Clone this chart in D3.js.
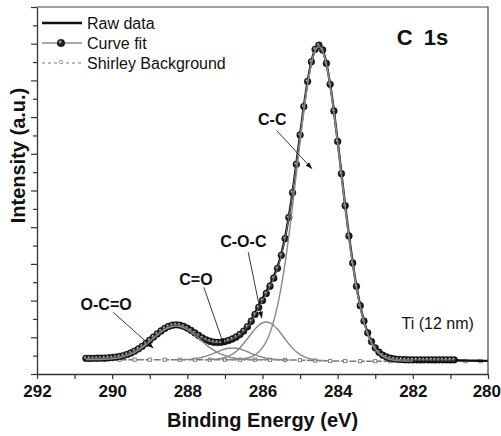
<!DOCTYPE html>
<html><head><meta charset="utf-8">
<script src="https://cdn.jsdelivr.net/npm/d3@7"></script>
<style>
body{margin:0;background:#fff}
svg{display:block}
text{font-family:Arial,"Liberation Sans",sans-serif;fill:#111}
</style>
</head><body>
<svg id="c" width="501" height="436"></svg>
<script>
// ---------- data (binding energy in eV, intensity in a.u.) ----------
const energy = [
290.7,290.6,290.5,290.4,290.3,290.2,290.1,290.0,
289.9,289.8,289.7,289.6,289.5,289.4,289.3,289.2,289.1,289.0,
288.9,288.8,288.7,288.6,288.5,288.4,288.3,288.2,288.1,288.0,
287.9,287.8,287.7,287.6,287.5,287.4,287.3,287.2,287.1,287.0,
286.9,286.8,286.7,286.6,286.5,286.4,286.3,286.2,286.1,286.0,
285.9,285.8,285.7,285.6,285.5,285.4,285.3,285.2,285.1,285.0,
284.9,284.8,284.7,284.6,284.5,284.4,284.3,284.2,284.1,284.0,
283.9,283.8,283.7,283.6,283.5,283.4,283.3,283.2,283.1,283.0,
282.9,282.8,282.7,282.6,282.5,282.4,282.3,282.2,282.1,282.0,
281.9,281.8,281.7,281.6,281.5,281.4,281.3,281.2,281.1,281.0,
280.9,280.8,280.7,280.6,280.5,280.4,280.3,280.2,280.1,280.0];

const rawData = [
4.22,4.24,4.25,4.28,4.31,4.36,4.42,4.50,
4.62,4.80,5.05,5.36,5.76,6.26,6.86,7.55,8.32,9.17,
10.05,10.93,11.74,12.44,12.97,13.30,13.40,13.30,12.98,12.50,
11.88,11.20,10.50,9.88,9.33,8.94,8.70,8.62,8.68,8.88,
9.18,9.60,10.14,10.85,11.75,12.95,14.70,16.65,18.65,20.55,
22.45,24.40,26.60,29.20,32.70,37.20,42.90,49.60,57.30,65.20,
72.90,79.70,85.00,88.40,89.50,88.20,84.60,78.90,71.70,63.40,
54.60,45.90,37.70,30.30,23.90,18.60,14.40,11.20,8.80,7.10,
5.90,5.10,4.60,4.28,4.08,3.96,3.90,3.86,3.84,3.83,
3.82,3.82,3.82,3.82,3.82,3.82,3.82,3.82,3.82,3.82,
3.80,3.75,3.70,3.66,3.63,3.62,3.61,3.60,3.60,3.60];

// curve fit, starting at 290.7 eV
const curveFit = [
4.26,4.26,4.27,4.29,4.31,4.35,4.40,4.49,
4.61,4.79,5.03,5.34,5.74,6.24,6.85,7.55,8.34,9.19,
10.06,10.93,11.73,12.42,12.95,13.29,13.41,13.31,13.00,12.51,
11.89,11.20,10.49,9.86,9.31,8.92,8.68,8.59,8.64,8.84,
9.14,9.55,10.08,10.77,11.70,12.90,14.38,16.23,18.17,20.05,
21.95,23.91,26.12,28.79,32.33,36.90,42.65,49.39,57.13,65.13,
72.86,79.70,85.07,88.48,89.59,88.28,84.63,78.94,71.67,63.36,
54.58,45.85,37.62,30.24,23.88,18.62,14.43,11.21,8.83,7.12,
5.93,5.14,4.63,4.30,4.11,3.99,3.93,3.89,3.87,3.86,
3.85,3.85,3.85,3.85,3.85,3.85,3.85,3.85,3.85,3.85,
3.85];

const shirley = [
3.90,3.90,3.90,3.90,3.90,3.90,3.90,3.90,
3.90,3.90,3.90,3.90,3.90,3.90,3.90,3.90,3.90,3.90,
3.90,3.90,3.90,3.90,3.90,3.90,3.90,3.90,3.90,3.90,
3.90,3.90,3.90,3.90,3.90,3.90,3.90,3.90,3.90,3.90,
3.90,3.90,3.90,3.90,3.90,3.90,3.90,3.90,3.90,3.90,
3.88,3.87,3.86,3.85,3.84,3.83,3.82,3.81,3.80,3.78,
3.76,3.73,3.70,3.67,3.64,3.61,3.58,3.56,3.54,3.53,
3.52,3.51,3.50,3.50,3.50,3.50,3.50,3.50,3.50,3.50,
3.50,3.50,3.50,3.50,3.50,3.50,3.50,3.50,3.50,3.50,
3.50,3.50,3.50,3.50,3.50,3.50,3.50,3.50,3.50,3.50,
3.50,3.50,3.50,3.50,3.50,3.50,3.50,3.50,3.50,3.50];

// fitted components (drawn on top of the background); first energy of each
const startOCO = 290.7;
const peakOCO = [
3.91,3.91,3.92,3.94,3.96,4.00,4.05,4.14,
4.26,4.44,4.68,4.99,5.39,5.89,6.50,7.20,7.99,8.84,
9.71,10.58,11.38,12.07,12.60,12.94,13.05,12.94,12.60,12.07,
11.38,10.58,9.71,8.84,7.99,7.20,6.50,5.89,5.39,4.99,
4.68,4.44,4.26,4.14,4.05,4.00,3.96,3.94,3.92,3.91,
3.89];
const startCdO = 288.3;
const peakCdO = [
3.91,3.92,3.95,3.99,4.06,4.17,4.33,4.56,4.85,5.22,5.63,6.06,6.46,6.80,7.02,7.10,
7.02,6.80,6.46,6.06,5.63,5.22,4.85,4.56,4.31,4.14,4.02,3.94,3.89,3.85,3.83];
const startCOC = 287.5;
const peakCOC = [
3.92,3.95,4.00,4.09,4.24,4.49,4.87,5.42,6.17,7.14,8.30,9.61,10.96,12.23,13.27,13.96,
14.18,13.93,13.23,12.18,10.90,9.54,8.22,7.05,6.07,5.30,4.73,4.32,4.04,3.86,3.74,3.66,3.60];
const startCC = 287.0;
const peakCC = [
3.91,3.92,3.94,3.98,4.04,4.16,4.35,4.68,5.19,5.98,7.17,
8.86,11.23,14.44,18.62,23.87,30.22,37.59,45.80,54.51,63.26,
71.54,78.76,84.38,87.94,89.14,87.88,84.26,78.59,71.32,63.01,
54.23,45.50,37.27,29.89,23.53,18.27,14.08,10.86,8.48,6.77,
5.58,4.79,4.28,3.95,3.76,3.64,3.58,3.54,3.52,3.51];

const xTickValues = [292,291,290,289,288,287,286,285,284,283,282,281,280];
const yTickValues = [0,5,10,15,20,25,30,35,40,45,50,55,60,65,70,75,80,85,90,95,100];

const legendItems = ["Raw data","Curve fit","Shirley Background"];
const annotations = [
  {label:"C-C",   tx:285.74, ty:67.9, x1:285.63, y1:66.4, x2:284.69, y2:56.0},
  {label:"C-O-C", tx:286.51, ty:34.6, x1:286.38, y1:33.2, x2:286.02, y2:15.3},
  {label:"C=O",   tx:287.77, ty:24.3, x1:287.56, y1:23.6, x2:287.03, y2:8.0},
  {label:"O-C=O", tx:290.16, ty:17.4, x1:289.97, y1:16.8, x2:288.91, y2:7.1}
];

// ---------- drawing ----------
const svg = d3.select("#c");
const L = 37, R = 488, T = 7, B = 374;
const x = d3.scaleLinear().domain([292,280]).range([L,R]);
const y = d3.scaleLinear().domain([0,100]).range([B,T]);

const defs = svg.append("defs");
const g = defs.append("radialGradient").attr("id","ball").attr("cx","50%").attr("cy","50%").attr("r","55%").attr("fx","33%").attr("fy","30%");
g.append("stop").attr("offset","0%").attr("stop-color","#f0f0f0");
g.append("stop").attr("offset","16%").attr("stop-color","#8a8a8a");
g.append("stop").attr("offset","45%").attr("stop-color","#2c2c2c");
g.append("stop").attr("offset","100%").attr("stop-color","#050505");
defs.append("marker").attr("id","arr").attr("viewBox","0 0 10 10").attr("refX",9).attr("refY",5)
  .attr("markerWidth",7).attr("markerHeight",7).attr("markerUnits","userSpaceOnUse").attr("orient","auto")
  .append("path").attr("d","M0,1.5 L10,5 L0,8.5 z").attr("fill","#111");
defs.append("clipPath").attr("id","clip").append("rect").attr("x",L).attr("y",T).attr("width",R-L).attr("height",B-T);

const idx = e => energy.findIndex(v => Math.abs(v - e) < 1e-6);
const series = (vals, start) => { const i0 = idx(start); return vals.map((v,i)=>[energy[i0+i], v]); };
const line = d3.line().x(d=>x(d[0])).y(d=>y(d[1])).curve(d3.curveMonotoneX);

const plot = svg.append("g").attr("clip-path","url(#clip)");

// Shirley background
const bgS = series(shirley, 290.7);
plot.append("path").attr("d", line(bgS)).attr("fill","none").attr("stroke","#7a7a7a").attr("stroke-width",1.5).attr("stroke-dasharray","7,1.5");
plot.selectAll("rect.bgm").data(bgS.filter((d,i)=>i%4===1)).enter().append("rect")
  .attr("x",d=>x(d[0])-1.6).attr("y",d=>y(d[1])-1.6).attr("width",3.2).attr("height",3.2)
  .attr("fill","#fff").attr("stroke","#7a7a7a").attr("stroke-width",0.9);

// raw data
plot.append("path").attr("d", line(series(rawData, 290.7))).attr("fill","none").attr("stroke","#111").attr("stroke-width",2.3);

// fit balls
const fitS = series(curveFit, 290.7);
plot.selectAll("circle.fit").data(fitS).enter().append("circle")
  .attr("cx",d=>x(d[0])).attr("cy",d=>y(d[1])).attr("r",3.4)
  .attr("fill","url(#ball)").attr("stroke","#000").attr("stroke-width",0.4);
plot.append("path").attr("d", line(fitS)).attr("fill","none").attr("stroke","#777").attr("stroke-width",1);

// components
[[peakOCO,startOCO],[peakCdO,startCdO],[peakCOC,startCOC],[peakCC,startCC]].forEach(([v,s])=>{
  plot.append("path").attr("d", line(series(v,s))).attr("fill","none").attr("stroke","#888").attr("stroke-width",1.4);
});

// axes
const xAxis = d3.axisBottom(x).tickValues(xTickValues).tickSizeInner(5).tickSizeOuter(0)
  .tickFormat(d => d % 2 === 0 ? d3.format("d")(d) : "");
const gx = svg.append("g").attr("transform",`translate(0,${B})`).call(xAxis);
gx.select(".domain").attr("stroke","#333").attr("stroke-width",1.3);
gx.selectAll(".tick line").attr("stroke","#333").attr("stroke-width",1.2);
gx.selectAll(".tick text").attr("font-size",17).attr("font-weight","bold").attr("fill","#111")
  .attr("font-family","Arial, Liberation Sans, sans-serif").attr("dy","0.95em").attr("y",7);
// keep the last label inside the picture, as in the reference
gx.selectAll(".tick text").filter(d => d === 280).attr("text-anchor","end").attr("x",12.5);

const yAxis = d3.axisLeft(y).tickValues(yTickValues).tickSizeOuter(0).tickFormat("");
const gy = svg.append("g").attr("transform",`translate(${L},0)`).call(yAxis);
gy.select(".domain").attr("stroke","#333").attr("stroke-width",1.3);
gy.selectAll(".tick line").attr("stroke","#333").attr("stroke-width",1.2)
  .attr("x2", d => d % 10 === 0 ? -6 : -4);

// frame top/right
svg.append("path").attr("d",`M${L},${T}H${R}V${B}`).attr("fill","none").attr("stroke","#444").attr("stroke-width",1.2);

// axis titles
svg.append("text").attr("x",(L+R)/2).attr("y",427).attr("text-anchor","middle")
  .attr("font-size",20).attr("font-weight","bold").text("Binding Energy (eV)");
svg.append("text").attr("transform",`translate(25,${(T+B)/2 - 35}) rotate(-90)`).attr("text-anchor","middle")
  .attr("font-size",20).attr("font-weight","bold").text("Intensity (a.u.)");

// annotations
annotations.forEach(a=>{
  svg.append("text").attr("x",x(a.tx)).attr("y",y(a.ty)).attr("text-anchor","middle")
    .attr("font-size",16).attr("font-weight","bold").text(a.label);
  svg.append("line").attr("x1",x(a.x1)).attr("y1",y(a.y1)).attr("x2",x(a.x2)).attr("y2",y(a.y2))
    .attr("stroke","#222").attr("stroke-width",0.9).attr("marker-end","url(#arr)");
});
svg.append("text").attr("x",x(282.30)).attr("y",y(12.26)).attr("font-size",16).text("Ti (12 nm)");
svg.append("text").attr("x",x(282.43)).attr("y",y(89.6)).attr("font-size",22).attr("font-weight","bold")
  .attr("word-spacing","5px").text("C 1s");

// legend
const lg = svg.append("g");
const ly = [23, 43, 63];
lg.append("line").attr("x1",42).attr("x2",82).attr("y1",ly[0]).attr("y2",ly[0]).attr("stroke","#111").attr("stroke-width",2.5);
lg.append("line").attr("x1",42).attr("x2",82).attr("y1",ly[1]).attr("y2",ly[1]).attr("stroke","#555").attr("stroke-width",1.2);
lg.append("circle").attr("cx",61).attr("cy",ly[1]).attr("r",3.8).attr("fill","url(#ball)").attr("stroke","#000").attr("stroke-width",0.4);
lg.append("line").attr("x1",42).attr("x2",82).attr("y1",ly[2]).attr("y2",ly[2]).attr("stroke","#777").attr("stroke-width",1).attr("stroke-dasharray","3,3");
lg.append("circle").attr("cx",61).attr("cy",ly[2]-1).attr("r",1.8).attr("fill","#fff").attr("stroke","#888").attr("stroke-width",0.8);
legendItems.forEach((t,i)=>{
  lg.append("text").attr("x",87).attr("y",ly[i]+5.5).attr("font-size",16).text(t);
});
</script>
</body></html>
